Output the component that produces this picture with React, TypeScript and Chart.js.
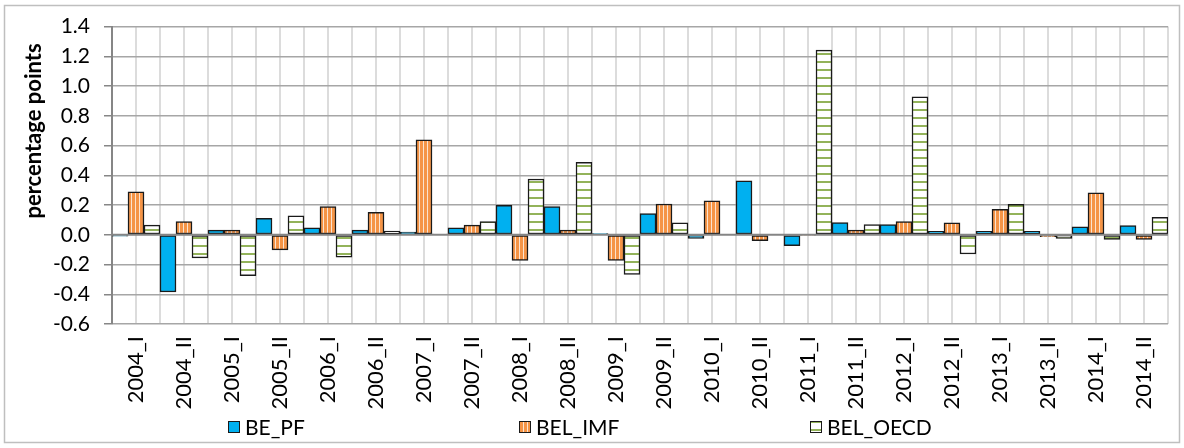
import React, { useEffect, useRef } from "react";
import { Chart, registerables } from "chart.js";

Chart.register(...registerables);

const categories = [
  "2004_I", "2004_II", "2005_I", "2005_II", "2006_I", "2006_II", "2007_I", "2007_II",
  "2008_I", "2008_II", "2009_I", "2009_II", "2010_I", "2010_II", "2011_I", "2011_II",
  "2012_I", "2012_II", "2013_I", "2013_II", "2014_I", "2014_II",
];

const bePF = [
  -0.01, -0.385, 0.031, 0.111, 0.047, 0.031, 0.018, 0.047, 0.198, 0.189, 0.008,
  0.142, -0.024, 0.362, -0.073, 0.082, 0.069, 0.024, 0.024, 0.024, 0.053, 0.062,
];

const belIMF = [
  0.289, 0.089, 0.031, -0.102, 0.189, 0.151, 0.638, 0.065, -0.173, 0.031, -0.173,
  0.207, 0.229, -0.04, -0.005, 0.031, 0.089, 0.08, 0.171, -0.013, 0.282, -0.031,
];

const belOECD = [
  0.065, -0.155, -0.275, 0.127, -0.151, 0.025, 0.005, 0.089, 0.375, 0.487, -0.267,
  0.08, 0, 0, 1.242, 0.069, 0.927, -0.129, 0.204, -0.024, -0.031, 0.118,
];

const seriesNames = ["BE_PF", "BEL_IMF", "BEL_OECD"];
const yMin = -0.6;
const yMax = 1.4;
const yStep = 0.2;
const yTitle = "percentage points";

const FONT = "Lato, 'Noto Sans', sans-serif";

function orangePattern(ctx: CanvasRenderingContext2D) {
  const c = document.createElement("canvas");
  c.width = 4;
  c.height = 4;
  const g = c.getContext("2d")!;
  g.fillStyle = "#F59446";
  g.fillRect(0, 0, 4, 4);
  g.fillStyle = "#FBE3CF";
  g.fillRect(3, 0, 1, 4);
  return ctx.createPattern(c, "repeat")!;
}

function greenPattern(ctx: CanvasRenderingContext2D) {
  const c = document.createElement("canvas");
  c.width = 8;
  c.height = 8;
  const g = c.getContext("2d")!;
  g.fillStyle = "#FFFFFF";
  g.fillRect(0, 0, 8, 8);
  g.fillStyle = "#93B35A";
  g.fillRect(0, 5, 8, 2);
  return ctx.createPattern(c, "repeat")!;
}

const decorPlugin = {
  id: "decor",
  beforeDraw(chart: any) {
    const { ctx, chartArea, scales } = chart;
    const x = scales.x;
    ctx.save();
    ctx.strokeStyle = "#BFBFBF";
    ctx.lineWidth = 1.5;
    ctx.strokeRect(4.5, 5.5, chart.width - 9, chart.height - 11);
    ctx.strokeStyle = "#D0D0D0";
    ctx.lineWidth = 1.5;
    for (let i = 0; i <= categories.length * 2; i++) {
      const px = x.getPixelForValue(i / 2 - 0.5);
      ctx.beginPath();
      ctx.moveTo(px, chartArea.top);
      ctx.lineTo(px, chartArea.bottom);
      ctx.stroke();
    }
    ctx.restore();
  },
  afterDatasetsDraw(chart: any) {
    const { ctx, chartArea, scales } = chart;
    const y0 = scales.y.getPixelForValue(0);
    ctx.save();
    ctx.strokeStyle = "#858585";
    ctx.lineWidth = 2;
    ctx.beginPath();
    ctx.moveTo(chartArea.left, y0);
    ctx.lineTo(chartArea.right, y0);
    ctx.stroke();
    ctx.restore();
  },
  afterDraw(chart: any) {
    const { ctx } = chart;
    ctx.save();
    ctx.translate(34, 131);
    ctx.rotate(-Math.PI / 2);
    ctx.font = `bold 22px ${FONT}`;
    ctx.fillStyle = "#000";
    ctx.textAlign = "center";
    ctx.textBaseline = "middle";
    ctx.fillText(yTitle, 0, 0);
    ctx.restore();

    ctx.save();
    const boxSize = 12;
    const slot = 291;
    const startX = chart.width / 2 - 364;
    const cy = 427;
    ctx.font = `21px ${FONT}`;
    ctx.textBaseline = "middle";
    ctx.textAlign = "left";
    chart.data.datasets.forEach((ds: any, i: number) => {
      const bx = startX + i * slot;
      ctx.fillStyle = ds.backgroundColor;
      ctx.fillRect(bx, cy - boxSize / 2, boxSize, boxSize);
      ctx.strokeStyle = "#1a1a1a";
      ctx.lineWidth = 1;
      ctx.strokeRect(bx + 0.5, cy - boxSize / 2 + 0.5, boxSize - 1, boxSize - 1);
      ctx.fillStyle = "#000";
      ctx.fillText(ds.label, bx + boxSize + 5, cy + 1);
    });
    ctx.restore();
  },
};

export default function App() {
  const canvasRef = useRef<HTMLCanvasElement | null>(null);

  useEffect(() => {
    const canvas = canvasRef.current!;
    const ctx = canvas.getContext("2d")!;
    const chart = new Chart(ctx, {
      type: "bar",
      data: {
        labels: categories,
        datasets: [
          {
            label: seriesNames[0],
            data: bePF,
            backgroundColor: "#00B0F0",
            borderColor: "#1a1a1a",
            borderWidth: 1.5,
            borderSkipped: false,
          },
          {
            label: seriesNames[1],
            data: belIMF,
            backgroundColor: orangePattern(ctx) as any,
            borderColor: "#1a1a1a",
            borderWidth: 1.5,
            borderSkipped: false,
          },
          {
            label: seriesNames[2],
            data: belOECD,
            backgroundColor: greenPattern(ctx) as any,
            borderColor: "#1a1a1a",
            borderWidth: 1.5,
            borderSkipped: false,
          },
        ],
      },
      options: {
        responsive: false,
        animation: false,
        devicePixelRatio: 1,
        layout: { padding: { top: 24, right: 16, bottom: 0, left: 0 } },
        datasets: {
          bar: { categoryPercentage: 1, barPercentage: 1 },
        },
        plugins: {
          legend: { display: false },
          tooltip: { enabled: false },
        },
        scales: {
          x: {
            grid: { display: false, drawTicks: false },
            border: { display: false },
            ticks: {
              autoSkip: false,
              minRotation: 90,
              maxRotation: 90,
              padding: 12,
              color: "#000",
              font: { family: FONT, size: 22 },
            },
            afterFit: (scale: any) => {
              scale.height = 124;
            },
          },
          y: {
            min: yMin,
            max: yMax,
            ticks: {
              stepSize: yStep,
              padding: 14,
              color: "#000",
              font: { family: FONT, size: 21 },
              callback: (v: any) => (Math.abs(Number(v)) < 1e-9 ? "0.0" : Number(v).toFixed(1)),
            },
            grid: {
              color: (c: any) =>
                c.tick && Math.abs(c.tick.value) < 1e-9 ? "rgba(0,0,0,0)" : "#A6A6A6",
              lineWidth: 1.5,
              tickLength: 8,
              tickColor: "#868686",
            },
            border: { display: true, color: "#868686", width: 2 },
            afterFit: (scale: any) => {
              scale.width = 112;
            },
          },
        },
      },
      plugins: [decorPlugin],
    });
    return () => chart.destroy();
  }, []);

  return (
    <div style={{ position: "absolute", left: 0, top: 0, width: 1184, height: 448, background: "#fff" }}>
      <canvas ref={canvasRef} width={1184} height={448} style={{ display: "block" }} />
    </div>
  );
}
